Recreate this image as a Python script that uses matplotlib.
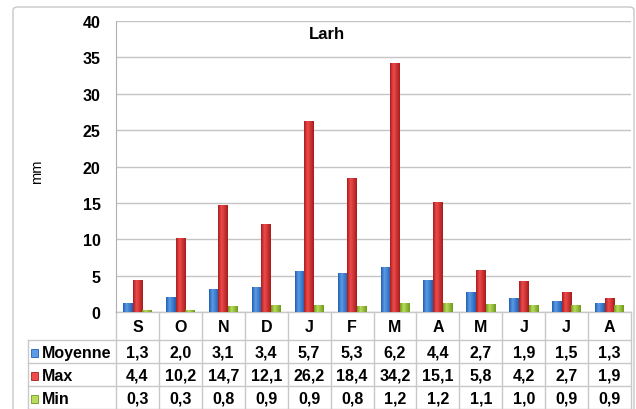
import numpy as np
import matplotlib
matplotlib.use("Agg")
import matplotlib.pyplot as plt
from matplotlib.colors import LinearSegmentedColormap
from matplotlib.patches import FancyBboxPatch, Rectangle

plt.rcParams['font.family'] = ['Liberation Sans', 'DejaVu Sans']

# ---- data ----
months = ["S", "O", "N", "D", "J", "F", "M", "A", "M", "J", "J", "A"]
series_names = ["Moyenne", "Max", "Min"]
moyenne = [1.3, 2.0, 3.1, 3.4, 5.7, 5.3, 6.2, 4.4, 2.7, 1.9, 1.5, 1.3]
maximum = [4.4, 10.2, 14.7, 12.1, 26.2, 18.4, 34.2, 15.1, 5.8, 4.2, 2.7, 1.9]
minimum = [0.3, 0.3, 0.8, 0.9, 0.9, 0.8, 1.2, 1.2, 1.1, 1.0, 0.9, 0.9]
title = "Larh"
ylabel = "mm"

series = [moyenne, maximum, minimum]
# (dark edge, light centre) per series
colors = [("#1f5fb0", "#5b9ae6"), ("#a81c1c", "#ee4b4b"), ("#6f9a1e", "#b9dc5a")]

W, H = 636, 410
fig = plt.figure(figsize=(W / 100, H / 100), dpi=100)

def fx(px):
    return px / W

def fy(py):
    return 1 - py / H

# chart frame
frame = FancyBboxPatch((fx(13), fy(440)), fx(634) - fx(13), fy(8) - fy(440),
                       boxstyle="round,pad=0,rounding_size=0.008",
                       transform=fig.transFigure, facecolor="white",
                       edgecolor="#c8c8c8", linewidth=1.0, zorder=-5)
fig.patches.append(frame)

left, right, top, bottom = 116, 631, 22, 313
ax = fig.add_axes([fx(left), fy(bottom), fx(right) - fx(left), fy(top) - fy(bottom)])
ax.set_zorder(2)
ax.set_xlim(-0.5, len(months) - 0.5)
ax.set_ylim(0, 40)
ax.set_yticks(np.arange(0, 41, 5))
ax.set_xticks([])
ax.tick_params(axis="y", length=0, pad=11, labelsize=11.5)
for lab in ax.get_yticklabels():
    lab.set_fontweight("bold")
ax.grid(axis="y", color="#c4c4c4", linewidth=1.0)
ax.set_axisbelow(True)
for s in ["top", "right", "bottom"]:
    ax.spines[s].set_visible(False)
ax.spines["left"].set_color("#b0b0b0")
ax.set_facecolor("none")

def gradient_cmap(dark, light):
    return LinearSegmentedColormap.from_list("g", [(0, dark), (0.35, light), (1, dark)])

grad = np.linspace(0, 1, 64).reshape(1, -1)
bw = 0.224
x = np.arange(len(months))
for i, (vals, (dark, light)) in enumerate(zip(series, colors)):
    bars = ax.bar(x + (i - 1) * bw, vals, width=bw, facecolor="none", edgecolor="none")
    cmap = gradient_cmap(dark, light)
    for b in bars:
        x0, w, h = b.get_x(), b.get_width(), b.get_height()
        im = ax.imshow(grad, cmap=cmap, aspect="auto",
                       extent=(x0, x0 + w, 0, h), zorder=3, interpolation="bilinear")
        im.set_clip_path(b)
ax.set_xlim(-0.5, len(months) - 0.5)
ax.set_ylim(0, 40)

ax.text(0.41, 0.983, title, transform=ax.transAxes, ha="center", va="top",
        fontsize=12, fontweight="bold")
fig.text(fx(37), fy(172), ylabel, rotation=90, ha="center", va="center", fontsize=10.5)

# ---- data table under the axis ----
line_c = "#c8c8c8"
col_w = (right - left) / len(months)
row_edges = [313, 341, 364, 387, 410]
lab_left = 28

def hline(y, x0, x1):
    fig.add_artist(plt.Line2D([fx(x0), fx(x1)], [fy(y), fy(y)], color=line_c, lw=1.0))

def vline(x0, y0, y1):
    fig.add_artist(plt.Line2D([fx(x0), fx(x0)], [fy(y0), fy(y1)], color=line_c, lw=1.0))

hline(row_edges[0], left, right)
for y in row_edges[1:]:
    hline(y, lab_left, right)
for k in range(len(months) + 1):
    vline(left + k * col_w, row_edges[0], row_edges[-1])
vline(lab_left, row_edges[1], row_edges[-1])

fs = 11.5
for k, m in enumerate(months):
    fig.text(fx(left + (k + 0.5) * col_w), fy((row_edges[0] + row_edges[1]) / 2 + 1), m,
             ha="center", va="center", fontsize=fs, fontweight="bold")

for r, (name, vals, (dark, light)) in enumerate(zip(series_names, series, colors)):
    yc = (row_edges[r + 1] + row_edges[r + 2]) / 2 + 1
    sq = Rectangle((fx(31), fy(yc + 4)), fx(7), fy(0) - fy(8), transform=fig.transFigure,
                   facecolor=light, edgecolor=dark, linewidth=0.6)
    fig.patches.append(sq)
    fig.text(fx(42), fy(yc), name, ha="left", va="center", fontsize=fs, fontweight="bold")
    for k, v in enumerate(vals):
        fig.text(fx(left + (k + 0.5) * col_w), fy(yc), f"{v:.1f}".replace(".", ","),
                 ha="center", va="center", fontsize=fs, fontweight="bold")

fig.savefig("out.png", dpi=100, facecolor="white")
